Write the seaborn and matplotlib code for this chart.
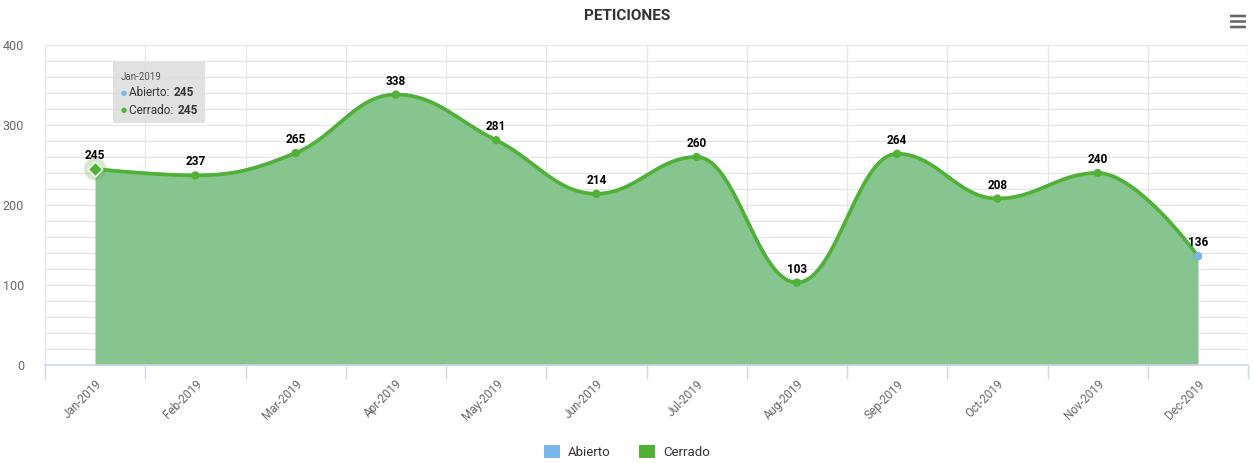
import numpy as np
import pandas as pd
import matplotlib
matplotlib.use("Agg")
import matplotlib.pyplot as plt
from matplotlib.patches import Patch, Rectangle, FancyBboxPatch
import seaborn as sns

months = ["Jan-2019", "Feb-2019", "Mar-2019", "Apr-2019", "May-2019", "Jun-2019",
          "Jul-2019", "Aug-2019", "Sep-2019", "Oct-2019", "Nov-2019", "Dec-2019"]
abierto = [245, 237, 265, 338, 281, 214, 260, 103, 264, 208, 240, 136]
cerrado = [245, 237, 265, 338, 281, 214, 260, 103, 264, 208, 240, 136]
y_ticks = [0, 100, 200, 300, 400]
title = "PETICIONES"

sns.set_theme(style="white")
plt.rcParams['font.family'] = ['Roboto', 'DejaVu Sans']

BLUE = "#7cb5ec"
GREEN = "#50b135"
FILL = "#86c590"


def spline(xs, ys, n=40):
    """Highcharts-like spline smoothing -> dense sample arrays."""
    xs = np.asarray(xs, float); ys = np.asarray(ys, float)
    m = len(xs)
    lcx, lcy = xs.copy(), ys.copy()
    rcx, rcy = xs.copy(), ys.copy()
    s = 1.5; d = s + 1
    for i in range(1, m - 1):
        px, py = xs[i], ys[i]
        lx, ly = xs[i - 1], ys[i - 1]
        nx, ny = xs[i + 1], ys[i + 1]
        a_x = (s * px + lx) / d; a_y = (s * py + ly) / d
        b_x = (s * px + nx) / d; b_y = (s * py + ny) / d
        if b_x != a_x:
            corr = ((b_y - a_y) * (b_x - px)) / (b_x - a_x) + py - b_y
            a_y += corr; b_y += corr
            if a_y > ly and a_y > py:
                a_y = max(ly, py); b_y = 2 * py - a_y
            elif a_y < ly and a_y < py:
                a_y = min(ly, py); b_y = 2 * py - a_y
            if b_y > ny and b_y > py:
                b_y = max(ny, py); a_y = 2 * py - b_y
            elif b_y < ny and b_y < py:
                b_y = min(ny, py); a_y = 2 * py - b_y
        lcx[i], lcy[i], rcx[i], rcy[i] = a_x, a_y, b_x, b_y
    outx, outy = [xs[0]], [ys[0]]
    t = np.linspace(0, 1, n)[1:]
    for i in range(1, m):
        p0 = np.array([xs[i - 1], ys[i - 1]])
        p1 = np.array([rcx[i - 1], rcy[i - 1]])
        p2 = np.array([lcx[i], lcy[i]])
        p3 = np.array([xs[i], ys[i]])
        b = ((1 - t) ** 3)[:, None] * p0 + (3 * (1 - t) ** 2 * t)[:, None] * p1 \
            + (3 * (1 - t) * t ** 2)[:, None] * p2 + (t ** 3)[:, None] * p3
        outx.extend(b[:, 0]); outy.extend(b[:, 1])
    return np.array(outx), np.array(outy)


W, H = 1254, 463
fig = plt.figure(figsize=(W / 100, H / 100), dpi=100)
L, R, T, B = 45, 1248, 45, 365
ax = fig.add_axes([L / W, 1 - B / H, (R - L) / W, (B - T) / H])

x = np.arange(len(months))
df = pd.DataFrame({"month": months, "x": x, "Abierto": abierto, "Cerrado": cerrado})

# Abierto (behind)
sx, sy = spline(x, abierto)
ax.fill_between(sx, 0, sy, color=BLUE, alpha=0.5, lw=0, zorder=2)
ax.plot(sx, sy, color=BLUE, lw=2.5, zorder=3)
# Cerrado
sx, sy = spline(x, cerrado)
ax.fill_between(sx, 0, sy, color=FILL, alpha=1.0, lw=0, zorder=4)
ax.plot(sx, sy, color=GREEN, lw=2.6, zorder=5, solid_capstyle="round")
sns.scatterplot(data=df.iloc[1:], x="x", y="Cerrado", color=GREEN, s=36,
                edgecolor="none", ax=ax, zorder=6, legend=False)
# hovered Jan point
ax.scatter([x[0]], [cerrado[0]], s=260, color=GREEN, alpha=0.25, edgecolor="none", zorder=6)
ax.scatter([x[0]], [cerrado[0]], s=55, marker="D", color=GREEN, edgecolor="white",
           linewidth=1, zorder=7)
ax.scatter([x[-1]], [abierto[-1]], s=36, color=BLUE, edgecolor="none", zorder=7)

for xi, v in zip(x, cerrado):
    ax.annotate(str(v), (xi, v), xytext=(0, 5), textcoords="offset points",
                ha="center", va="bottom", fontsize=8.5, fontweight="bold",
                color="#000000", zorder=8)

ax.set_xlim(-0.5, len(months) - 0.5)
ax.set_ylim(0, 400)
ax.set_yticks(y_ticks)
ax.set_yticks(np.arange(0, 401, 20), minor=True)
ax.set_yticklabels([str(v) for v in y_ticks], fontsize=9, color="#666666")
ax.tick_params(axis="y", which="both", length=0, pad=15)
ax.grid(axis="y", which="both", color="#e6e6e6", lw=1, zorder=0)

ax.set_xticks(np.arange(-0.5, len(months), 1), minor=True)
ax.set_xticks(x)
ax.set_xticklabels(months, rotation=45, ha="right", rotation_mode="anchor",
                   fontsize=8.5, color="#666666")
ax.tick_params(axis="x", which="major", length=0, pad=9)
ax.tick_params(axis="x", which="minor", length=10, color="#ccd6eb", width=1, bottom=True)
ax.grid(axis="x", which="minor", color="#e6e6e6", lw=1, zorder=0)
ax.set_xlabel(""); ax.set_ylabel("")
for sp in ["top", "right", "left"]:
    ax.spines[sp].set_visible(False)
ax.spines["bottom"].set_color("#ccd6eb")
ax.spines["bottom"].set_zorder(9)
ax.set_axisbelow(True)

fig.text(0.5, 1 - 16 / H, title, ha="center", va="center", fontsize=11,
         fontweight="bold", color="#333333")

# hamburger menu icon
for yy in (16, 21.5, 27):
    fig.patches.append(FancyBboxPatch((1230 / W, 1 - (yy + 1.3) / H), 16 / W, 2.6 / H,
                                      boxstyle="round,pad=0,rounding_size=0.001",
                                      transform=fig.transFigure, facecolor="#666666",
                                      edgecolor="none", zorder=20))

# tooltip
fig.patches.append(Rectangle((113 / W, 1 - 123 / H), 92 / W, 61 / H,
                             transform=fig.transFigure, facecolor="#dcdcdc",
                             alpha=0.85, edgecolor="none", zorder=20))
fig.text(121 / W, 1 - 77 / H, "Jan-2019", fontsize=7, color="#555555", va="center", zorder=21)

renderer = fig.canvas.get_renderer()
for yy, dot_col, lab in [(93, BLUE, "Abierto: "), (110, GREEN, "Cerrado: ")]:
    fig.text(121 / W, 1 - yy / H, "\u25CF", fontsize=5, color=dot_col, va="center",
             zorder=21, family="DejaVu Sans")
    t1 = fig.text(129 / W, 1 - yy / H, lab, fontsize=8.5, color="#333333",
                  va="center", zorder=21)
    ext = t1.get_window_extent(renderer)
    fig.text(ext.x1 / W + 1 / W, 1 - yy / H, "245", fontsize=8.5, color="#333333",
             fontweight="bold", va="center", zorder=21)

handles = [Patch(facecolor=BLUE, edgecolor="none", label="Abierto"),
           Patch(facecolor=GREEN, edgecolor="none", label="Cerrado")]
fig.legend(handles=handles, loc="center", bbox_to_anchor=(0.5, 1 - 452 / H), ncol=2,
           frameon=False, fontsize=9.5, handlelength=1.2, handleheight=1.2,
           columnspacing=2.2, handletextpad=0.6, labelcolor="#333333")

fig.savefig("out.png", dpi=100)
